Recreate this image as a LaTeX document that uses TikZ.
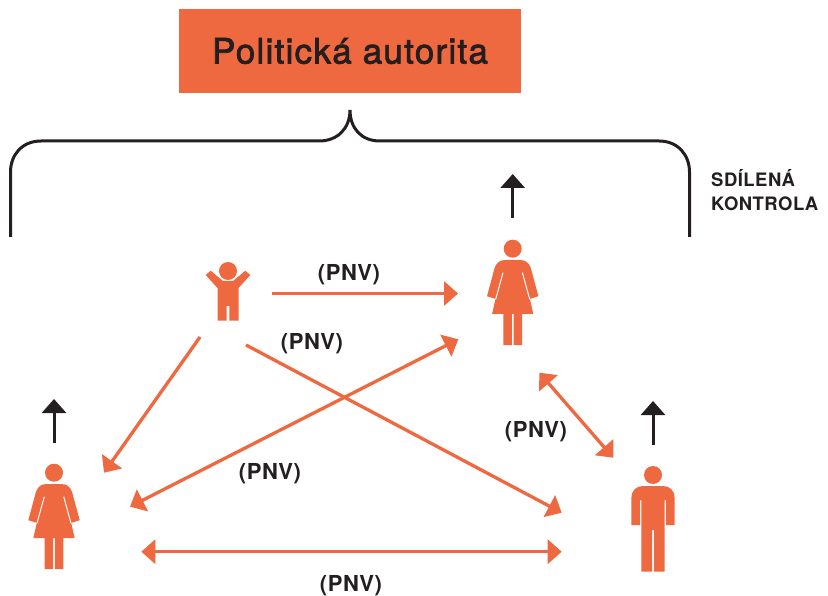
\documentclass[tikz,border=0pt]{standalone}
\usepackage{fontspec}
\setmainfont{TeX Gyre Heros}
\newfontfamily\titlefont{TeX Gyre Heros}[FakeBold=2,LetterSpace=3.6]
\newfontfamily\labelfont{TeX Gyre Heros Bold}[LetterSpace=2.5]
\usetikzlibrary{arrows.meta}
\definecolor{rust}{HTML}{EE6840}
\definecolor{ink}{HTML}{231F20}
\tikzset{
x=1pt,y=-1pt,
>={Triangle[length=14pt,width=24pt]},
link/.style={draw=rust,line width=3.3pt},
up/.style={draw=ink,line width=3pt,->},
brace/.style={draw=ink,line width=3pt},
pnv/.style={text=ink,font=\labelfont\fontsize{22}{22}\selectfont,inner sep=0pt},
slit/.style={draw=white,line width=1pt},
woman/.pic={
  \fill[rust] (0,0) circle (9);
  \fill[rust] (-7,11.3) -- (7,11.3) .. controls (13,11.3) and (16,14) .. (18,19)
    -- (25.7,47.5) -- (17.2,50.2) -- (20.6,65.3) -- (9.4,65.3) -- (9.4,96.5) -- (0.8,96.5)
    -- (0.8,65.3) -- (-0.8,65.3) -- (-0.8,96.5) -- (-9.4,96.5) -- (-9.4,65.3) -- (-20.6,65.3)
    -- (-17.2,50.2) -- (-25.7,47.5) -- (-18,19) .. controls (-16,14) and (-13,11.3) .. (-7,11.3) -- cycle;
  \draw[slit] (-9.7,24) -- (-17,50.5);
  \draw[slit] (9.7,24) -- (17,50.5);
},
man/.pic={
  \fill[rust] (0,0) circle (9);
  \fill[rust] (-10,11) -- (10,11) .. controls (17,11) and (21.7,16) .. (21.7,23) -- (21.7,50)
    -- (13,50) -- (13,25) -- (11.7,25) -- (11.7,96.7) -- (1,96.7) -- (1,55) -- (-1,55)
    -- (-1,96.7) -- (-11.7,96.7) -- (-11.7,25) -- (-13,25) -- (-13,50) -- (-21.7,50)
    -- (-21.7,23) .. controls (-21.7,16) and (-17,11) .. (-10,11) -- cycle;
},
child/.pic={
  \fill[rust] (0,0) circle (9);
  \fill[rust] (-5,10) -- (-17.3,-0.3) -- (-22.3,4) -- (-10.5,17) -- (-10.5,49.7) -- (-1.3,49.7)
    -- (-1.3,35) -- (1.3,35) -- (1.3,49.7) -- (10.5,49.7) -- (10.5,17) -- (22.3,4)
    -- (17.3,-0.3) -- (5,10) -- cycle;
},
}
\begin{document}
\begin{tikzpicture}
\useasboundingbox (0,0) rectangle (828,596);

\node[fill=rust,text=ink,minimum width=342pt,minimum height=84pt,inner sep=0pt,
  font=\titlefont\fontsize{35}{35}\selectfont] (title) at (350,51) {Politická autorita};

% the brace
\coordinate (braceL) at (10.5,237);
\coordinate (braceR) at (689.5,237);
\coordinate (braceT) at (350,110);
\draw[brace] (braceL) -- (10.5,172) .. controls (10.5,155) and (22,141) .. (41,141) -- (319,141)
  .. controls (338,141) and (350,128) .. (braceT)
  .. controls (350,128) and (361,141) .. (380,141) -- (659,141)
  .. controls (678,141) and (689.5,155) .. (689.5,172) -- (braceR);
\node[text=ink,inner sep=0pt,align=left,anchor=north west,
  font=\labelfont\fontsize{18.5}{24}\selectfont] (shared) at (711,169) {SDÍLENÁ\\KONTROLA};

% people
\pic (kid) at (228,271) {child};
\pic (mother) at (512.7,248.7) {woman};
\pic (sister) at (54,472.7) {woman};
\pic (father) at (653,475) {man};

% black arrows
\coordinate (motherA) at (512.7,218.5);
\coordinate (motherB) at (512.7,174);
\coordinate (sisterA) at (54,442.5);
\coordinate (sisterB) at (54,399);
\coordinate (fatherA) at (653,444.5);
\coordinate (fatherB) at (653,401);
\draw[up] (motherA) -- (motherB);
\draw[up] (sisterA) -- (sisterB);
\draw[up] (fatherA) -- (fatherB);

% orange arrows
\coordinate (a1) at (272,293.5);
\coordinate (a2) at (458,293.5);
\coordinate (b1) at (200,337);
\coordinate (b2) at (104,472.7);
\coordinate (c1) at (246,345);
\coordinate (c2) at (561.7,512.7);
\coordinate (d1) at (130,506.7);
\coordinate (d2) at (458.3,339.3);
\coordinate (e1) at (539.3,372.7);
\coordinate (e2) at (613.3,457.7);
\coordinate (f1) at (141.3,551.7);
\coordinate (f2) at (561.7,551.7);
\draw[link,->] (a1) -- (a2);
\draw[link,->] (b1) -- (b2);
\draw[link,->] (c1) -- (c2);
\draw[link,<->] (d1) -- (d2);
\draw[link,<->] (e1) -- (e2);
\draw[link,<->] (f1) -- (f2);

\node[pnv] (p1) at (349,274.5) {(PNV)};
\node[pnv] (p2) at (312,343.5) {(PNV)};
\node[pnv] (p3) at (536,431.5) {(PNV)};
\node[pnv] (p4) at (270,473.5) {(PNV)};
\node[pnv] (p5) at (351,585.5) {(PNV)};
\end{tikzpicture}
\end{document}
